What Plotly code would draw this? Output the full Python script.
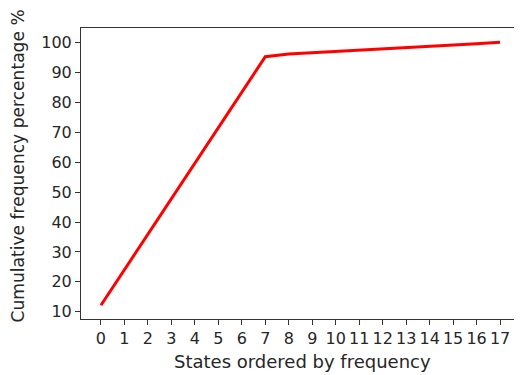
import plotly.graph_objects as go

states = list(range(18))
cumulative_pct = [12.2, 24.1, 36.0, 47.8, 59.6, 71.5, 83.4, 95.2,
                  96.1, 96.5, 96.9, 97.3, 97.8, 98.2, 98.6, 99.1, 99.5, 100.0]
x_ticks = list(range(18))
y_ticks = [10, 20, 30, 40, 50, 60, 70, 80, 90, 100]
x_title = "States ordered by frequency"
y_title = "Cumulative frequency percentage %"

FONT = "DejaVu Sans"
TXT = "#262626"

# page body has an 8px margin, so the figure is drawn 8px in from the top-left
W, H = 514, 367
L, R, T, B = 73, 2, 20, 56
PW, PH = W - L - R, H - T - B

fig = go.Figure()
fig.add_trace(go.Scatter(x=states, y=cumulative_pct, mode="lines",
                         line=dict(color="#ff0000", width=3), showlegend=False))

axis_common = dict(showline=True, linecolor="#333333", linewidth=1, mirror=True,
                   ticks="outside", ticklen=5, tickcolor="#333333", showgrid=False,
                   zeroline=False, automargin=False,
                   tickfont=dict(family=FONT, size=16, color=TXT))

fig.update_layout(
    width=W, height=H,
    margin=dict(l=L, r=R, t=T, b=B, autoexpand=False),
    plot_bgcolor="white", paper_bgcolor="white",
    xaxis=dict(range=[-0.85, 17.85], tickmode="array", tickvals=x_ticks,
               ticktext=[str(t) for t in x_ticks], **axis_common),
    yaxis=dict(range=[7.6, 104.8], tickmode="array", tickvals=y_ticks,
               **axis_common),
    annotations=[
        dict(text=x_title, xref="paper", yref="paper", x=(302 - 81) / PW,
             y=-(361 - 319) / PH, xanchor="center", yanchor="middle",
             showarrow=False, font=dict(family=FONT, size=18, color=TXT)),
        dict(text=y_title, xref="paper", yref="paper", x=-(81 - 17) / PW,
             y=(319 - 166.5) / PH, xanchor="center", yanchor="middle", textangle=-90,
             showarrow=False, font=dict(family=FONT, size=17.1, color=TXT)),
    ],
)

fig.write_html("out.html")
